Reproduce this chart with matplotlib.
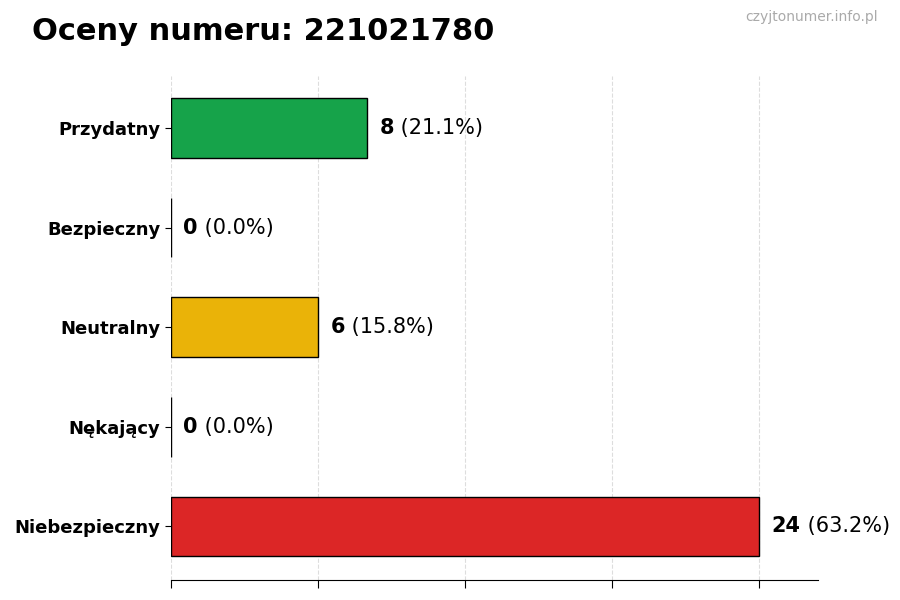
import matplotlib
matplotlib.use('Agg')
import matplotlib.pyplot as plt

# dane
kategorie = ['Niebezpieczny', 'Nękający', 'Neutralny', 'Bezpieczny', 'Przydatny']
liczby = [24, 0, 6, 0, 8]
kolory = ['#dc2626', '#9ca3af', '#eab308', '#3b82f6', '#16a34a']
numer = '221021780'

suma = sum(liczby)

fig = plt.figure(figsize=(9, 6), dpi=100)
ax = fig.add_axes([0.19, 0.033, 0.719, 0.84])

ypos = list(range(len(kategorie)))
ax.barh(ypos, liczby, height=0.6, color=kolory, edgecolor='black', linewidth=1, zorder=2)

for y, v in zip(ypos, liczby):
    proc = v / suma * 100 if suma else 0
    t = ax.text(v + 0.5, y, str(v), fontsize=15, fontweight='bold', va='center', ha='left')
    ax.annotate(' (%.1f%%)' % proc, xy=(1, 0.5), xycoords=t, va='center', ha='left', fontsize=15)

ax.set_yticks(ypos)
ax.set_yticklabels(kategorie, fontsize=13, fontweight='bold')
ax.set_xlim(0, max(liczby) * 1.1)
ax.set_ylim(-0.54, 4.52)
ax.set_xticks([0, 6, 12, 18, 24])
ax.set_xticklabels([])
ax.tick_params(axis='x', length=6)
ax.tick_params(axis='y', length=4)
ax.grid(axis='x', linestyle='--', color='#dddddd', linewidth=0.8, zorder=0)
for s in ['top', 'right', 'left']:
    ax.spines[s].set_visible(False)

fig.text(0.035, 0.947, 'Oceny numeru: ' + numer, fontsize=22, fontweight='bold', va='center')
fig.text(0.975, 0.971, 'czyjtonumer.info.pl', fontsize=10, color='#aaaaaa', ha='right', va='center')

fig.savefig('out.png', dpi=100)
